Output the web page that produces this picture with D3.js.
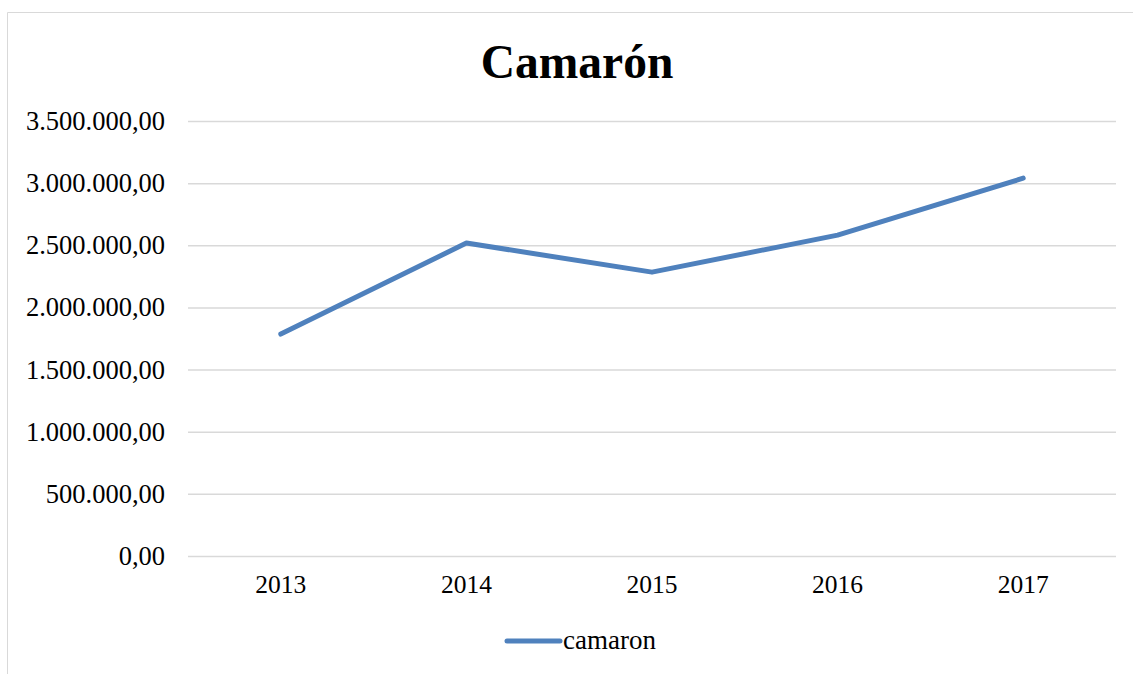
<!DOCTYPE html>
<html>
<head>
<meta charset="utf-8">
<script src="https://cdn.jsdelivr.net/npm/d3@7"></script>
<style>
  body { margin: 0; background: #fff; }
  text { font-family: "Liberation Serif", "Times New Roman", serif; }
</style>
</head>
<body>
<svg width="1133" height="674"></svg>
<script>
const years = ['2013', '2014', '2015', '2016', '2017']
const camaron = [1786000, 2518000, 2284000, 2582000, 3040000]
const yTicks = [0, 500000, 1000000, 1500000, 2000000, 2500000, 3000000, 3500000]

const svg = d3.select('svg')
const width = +svg.attr('width')
const height = +svg.attr('height')

const margin = { top: 121, right: 17, bottom: 118, left: 188 }
const innerWidth = width - margin.left - margin.right
const innerHeight = height - margin.top - margin.bottom

// chart frame (only top and left edges are visible in the crop)
svg.append('path')
    .attr('d', `M7.5,${height} V12.5 H${width}`)
    .attr('fill', 'none').attr('stroke', '#d9d9d9')

svg.append('text')
    .attr('x', 577).attr('y', 78)
    .attr('text-anchor', 'middle')
    .attr('font-size', 47.5).attr('font-weight', 'bold')
    .text('Camarón')

const xScale = d3.scaleBand().domain(years).range([0, innerWidth])
const yScale = d3.scaleLinear().domain([0, 3500000]).range([innerHeight, 0])

const fmt = v => d3.format(',.2f')(v).replace(/,/g, 'X').replace('.', ',').replace(/X/g, '.')

const g = svg.append('g')
    .attr('transform', `translate(${margin.left}, ${margin.top})`)

const yAxis = g.append('g')
    .call(d3.axisLeft(yScale).tickValues(yTicks).tickSize(-innerWidth).tickPadding(23).tickFormat(fmt))
yAxis.select('.domain').remove()
yAxis.selectAll('line').attr('stroke', '#d9d9d9').attr('stroke-width', 1.5)
yAxis.selectAll('text').attr('font-size', 26.5).attr('fill', '#000')
    .style('font-family', '"Liberation Serif", serif')

const xAxis = g.append('g')
    .attr('transform', `translate(0, ${innerHeight})`)
    .call(d3.axisBottom(xScale).tickSize(0).tickPadding(19))
xAxis.select('.domain').remove()
xAxis.selectAll('text').attr('font-size', 25.5).attr('fill', '#000')
    .style('font-family', '"Liberation Serif", serif')

const line = d3.line()
    .x((d, i) => xScale(years[i]) + xScale.bandwidth() / 2)
    .y(d => yScale(d))

g.append('path')
    .datum(camaron)
    .attr('d', line)
    .attr('fill', 'none')
    .attr('stroke', '#4f81bd')
    .attr('stroke-width', 5)
    .attr('stroke-linecap', 'round')
    .attr('stroke-linejoin', 'round')

// legend
const legend = svg.append('g').attr('transform', 'translate(505, 641)')
legend.append('line')
    .attr('x1', 2).attr('x2', 55)
    .attr('stroke', '#4f81bd').attr('stroke-width', 5).attr('stroke-linecap', 'round')
legend.append('text')
    .attr('x', 58).attr('y', 8)
    .attr('font-size', 27)
    .text('camaron')
</script>
</body>
</html>
